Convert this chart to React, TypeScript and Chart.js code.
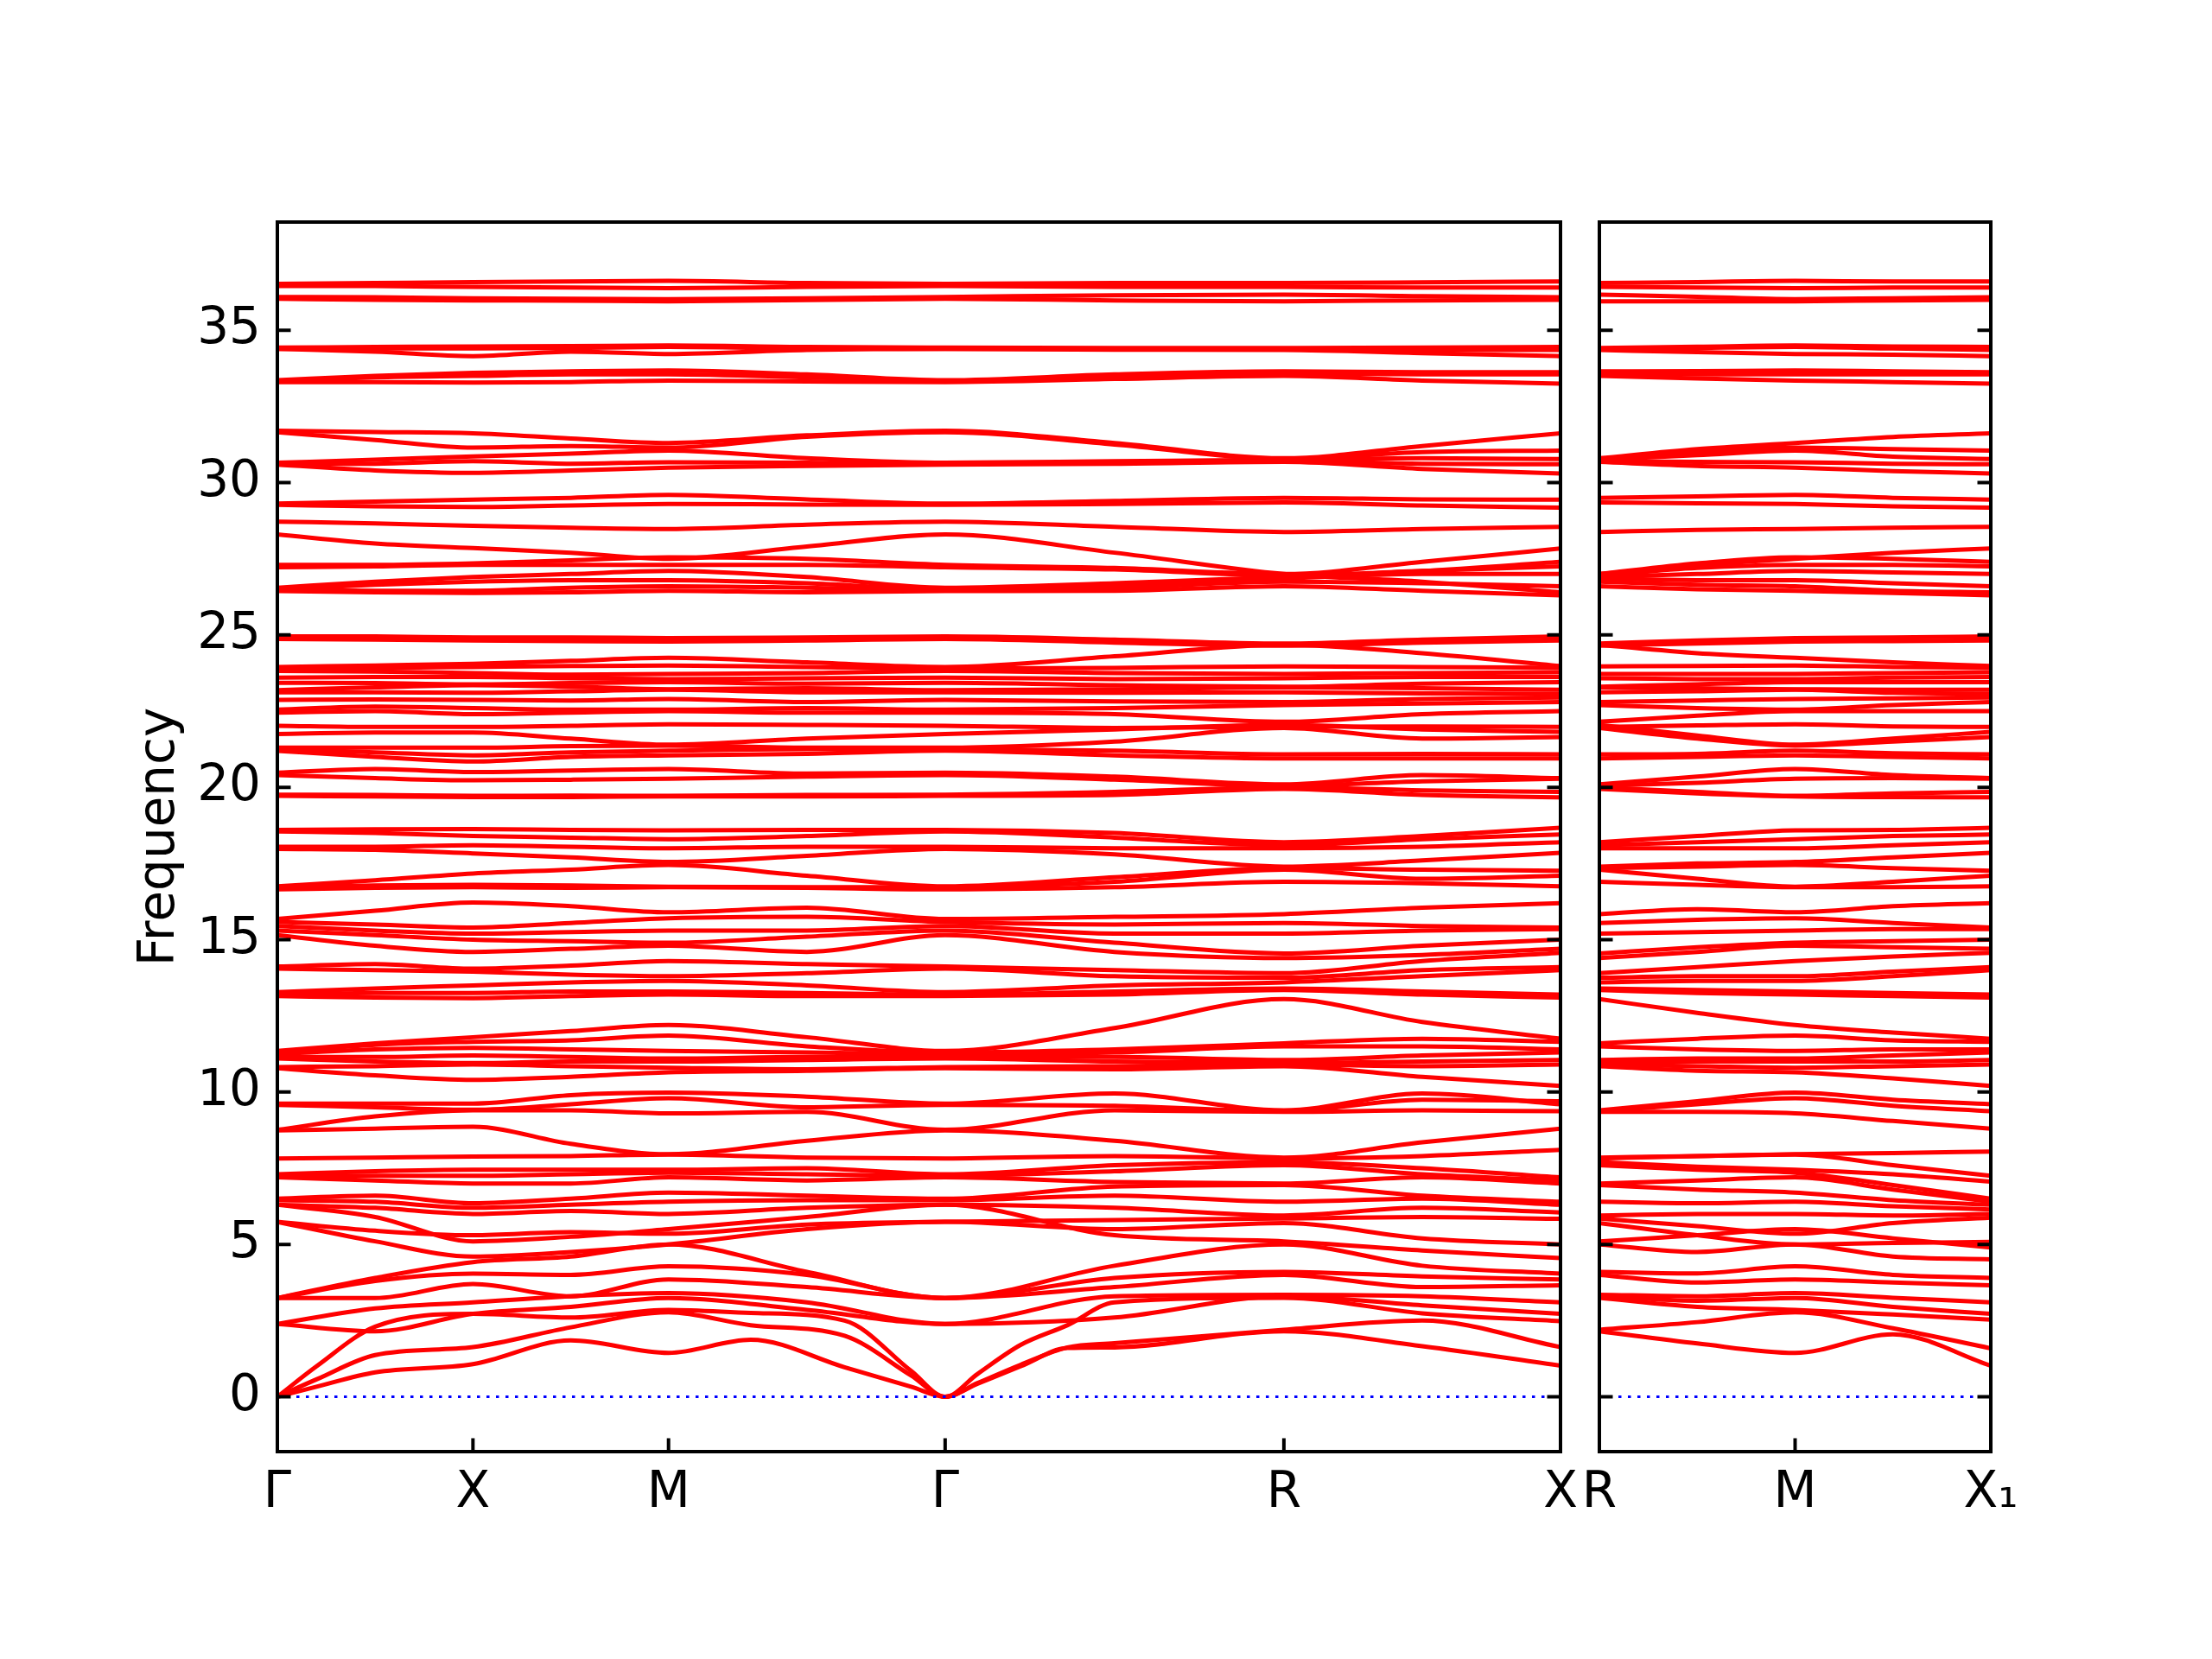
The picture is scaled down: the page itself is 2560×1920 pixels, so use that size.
import React, { useEffect, useRef } from 'react';
import { Chart, registerables } from 'chart.js';

Chart.register(...registerables);

// ---- path positions (reciprocal-space distance) and labels ----
const PATH1_POS = [0, 0.25, 0.5, 0.75, 1.0, 1.3536, 1.7071, 2.1401, 2.5731, 2.9267, 3.2802];
const ACOUSTIC_POS1 = [0, 0.1, 0.25, 0.5, 0.75, 1.0, 1.21, 1.45, 1.62, 1.7071, 1.79, 1.9, 2.02, 2.14, 2.5731, 2.9267, 3.2802];
const PATH2_POS = [0, 0.25, 0.5, 0.75, 1.0];
const PATH1_TICKS = [0, 0.5, 1.0, 1.7071, 2.5731, 3.2802];
const PATH1_LABELS = ['Γ', 'X', 'M', 'Γ', 'R', 'X'];
const PATH2_TICKS = [0, 0.5, 1.0];
const PATH2_LABELS = ['R', 'M', 'X₁'];
const Y_TICKS = [0, 5, 10, 15, 20, 25, 30, 35];
const Y_MIN = -1.8;
const Y_MAX = 38.55;

// ---- acoustic branches (finer sampling near Γ) ----
const acousticP1 = [
  [0, 0.33, 0.8, 1.07, 1.85, 1.44, 1.87, 0.97, 0.33, 0, 0.43, 1.0, 1.6, 1.62, 2.15, 1.66, 1.02],
  [0, 0.57, 1.37, 1.63, 2.28, 2.77, 2.35, 2.0, 0.7, 0, 0.45, 1.05, 1.62, 1.76, 2.2, 2.5, 1.63],
  [0, 1.0, 2.3, 2.72, 2.6, 2.85, 2.75, 2.5, 0.85, 0, 0.75, 1.7, 2.35, 3.1, 3.25, 2.74, 2.48],
];
const acousticP2 = [
  [2.15, 1.75, 1.44, 2.05, 1.02],
  [2.2, 2.45, 2.77, 2.25, 1.59],
  [3.25, 2.95, 2.85, 2.7, 2.53],
];

// ---- optical bands: panel 1 (Γ-X-M-Γ-R-X), panel 2 (R-M-X1) ----
const band2to5P1 = [
  [2.39, 2.15, 2.72, 2.95, 3.24, 2.85, 2.39, 2.6, 3.3, 3.0, 2.72],
  [2.39, 2.9, 3.1, 3.3, 3.4, 3.1, 2.39, 3.3, 3.35, 3.3, 3.1],
  [3.24, 3.24, 3.7, 3.3, 3.85, 3.6, 3.24, 3.6, 4.0, 3.6, 3.66],
  [3.24, 3.8, 4.04, 4.0, 4.28, 4.0, 3.24, 3.9, 4.1, 3.95, 3.85],
  [3.24, 3.9, 4.42, 4.6, 5.0, 4.1, 3.24, 4.3, 5.0, 4.3, 4.04],
];
const band2to5P2 = [
  [3.3, 3.15, 3.24, 2.95, 2.72],
  [3.35, 3.3, 3.4, 3.25, 3.1],
  [4.0, 3.75, 3.85, 3.75, 3.66],
  [4.1, 4.05, 4.28, 4.0, 3.9],
  [5.0, 4.75, 5.0, 4.6, 4.51],
];

const band5to10P1 = [
  [9.62, 9.62, 9.62, 9.9, 9.98, 9.85, 9.62, 9.95, 9.4, 9.95, 9.6],
  [9.58, 9.5, 9.42, 9.6, 9.8, 9.5, 9.58, 9.55, 9.37, 9.75, 9.7],
  [8.76, 9.2, 9.4, 9.4, 9.3, 9.35, 8.76, 9.4, 9.35, 9.4, 9.37],
  [8.74, 8.8, 8.86, 8.3, 7.96, 8.4, 8.74, 8.4, 7.85, 8.35, 8.8],
  [7.82, 7.85, 7.88, 7.9, 7.95, 7.85, 7.82, 7.9, 7.82, 7.9, 8.1],
  [7.3, 7.4, 7.45, 7.45, 7.45, 7.5, 7.3, 7.6, 7.7, 7.5, 7.2],
  [7.25, 7.25, 7.25, 7.3, 7.35, 7.3, 7.25, 7.4, 7.6, 7.3, 7.1],
  [7.2, 7.1, 7.0, 7.0, 7.2, 7.1, 7.2, 7.05, 7.0, 7.2, 7.0],
  [6.5, 6.6, 6.35, 6.5, 6.7, 6.6, 6.5, 6.9, 6.95, 6.6, 6.4],
  [6.45, 6.4, 6.2, 6.3, 6.4, 6.45, 6.45, 6.6, 6.4, 6.5, 6.3],
  [6.3, 6.2, 6.0, 6.1, 6.0, 6.2, 6.3, 6.2, 5.95, 6.2, 6.05],
  [5.74, 5.45, 5.3, 5.4, 5.35, 5.65, 5.74, 5.8, 5.85, 5.9, 5.84],
  [5.74, 5.1, 4.6, 4.75, 5.0, 5.5, 5.74, 5.5, 5.7, 5.2, 5.0],
  [6.3, 5.9, 5.1, 5.25, 5.5, 5.9, 6.3, 5.3, 5.1, 4.8, 4.55],
];
const band5to10P2 = [
  [9.4, 9.7, 9.98, 9.75, 9.6],
  [9.37, 9.6, 9.8, 9.55, 9.37],
  [9.35, 9.35, 9.3, 9.05, 8.8],
  [7.85, 7.9, 7.96, 8.0, 8.05],
  [7.82, 7.9, 7.95, 7.6, 7.25],
  [7.7, 7.55, 7.45, 7.3, 7.06],
  [7.6, 7.45, 7.35, 6.95, 6.5],
  [7.0, 7.1, 7.2, 6.8, 6.4],
  [6.95, 6.8, 6.7, 6.45, 6.3],
  [6.4, 6.35, 6.4, 6.25, 6.15],
  [5.95, 6.0, 6.0, 5.95, 6.0],
  [5.85, 5.6, 5.35, 5.7, 5.88],
  [5.7, 5.3, 5.0, 5.05, 5.08],
  [5.1, 5.3, 5.5, 5.2, 4.9],
];

const band10to13P1 = [
  [11.35, 11.6, 11.8, 12.0, 12.2, 11.8, 11.35, 12.1, 13.05, 12.3, 11.75],
  [11.3, 11.55, 11.65, 11.7, 11.85, 11.5, 11.3, 11.4, 11.6, 11.75, 11.65],
  [11.25, 11.4, 11.45, 11.4, 11.35, 11.3, 11.25, 11.3, 11.5, 11.5, 11.4],
  [11.15, 11.15, 11.2, 11.15, 11.1, 11.15, 11.15, 11.15, 11.05, 11.2, 11.3],
  [11.1, 11.0, 10.95, 11.0, 11.0, 11.05, 11.1, 11.0, 10.95, 11.0, 11.05],
  [10.82, 10.85, 10.9, 10.85, 10.8, 10.75, 10.82, 10.85, 10.9, 10.85, 10.9],
  [10.78, 10.55, 10.4, 10.5, 10.65, 10.7, 10.78, 10.75, 10.85, 10.5, 10.2],
];
const band10to13P2 = [
  [13.05, 12.6, 12.2, 11.95, 11.75],
  [11.6, 11.75, 11.85, 11.7, 11.65],
  [11.5, 11.4, 11.35, 11.4, 11.4],
  [11.05, 11.1, 11.1, 11.2, 11.3],
  [10.95, 11.0, 11.0, 11.0, 11.05],
  [10.9, 10.85, 10.8, 10.85, 10.9],
  [10.85, 10.7, 10.65, 10.45, 10.2],
];

const band13to16P1 = [
  [15.68, 15.95, 16.22, 16.1, 15.9, 16.05, 15.68, 15.75, 15.84, 16.05, 16.2],
  [15.58, 15.5, 15.4, 15.55, 15.7, 15.75, 15.58, 15.5, 15.55, 15.45, 15.4],
  [15.45, 15.3, 15.2, 15.25, 15.3, 15.3, 15.45, 15.2, 15.2, 15.3, 15.35],
  [15.3, 15.15, 15.0, 14.95, 14.9, 15.1, 15.3, 14.9, 14.55, 14.8, 15.0],
  [15.15, 14.8, 14.6, 14.7, 14.8, 14.6, 15.15, 14.6, 14.4, 14.5, 14.7],
  [14.12, 14.2, 14.05, 14.15, 14.3, 14.2, 14.12, 14.0, 13.9, 14.3, 14.57],
  [14.05, 14.0, 13.95, 13.85, 13.8, 13.9, 14.05, 13.8, 13.75, 14.0, 14.1],
  [13.28, 13.4, 13.5, 13.6, 13.65, 13.5, 13.28, 13.5, 13.6, 13.8, 14.0],
  [13.2, 13.25, 13.25, 13.3, 13.3, 13.25, 13.2, 13.3, 13.4, 13.3, 13.2],
  [13.15, 13.1, 13.08, 13.15, 13.2, 13.15, 13.15, 13.2, 13.35, 13.2, 13.1],
];
const band13to16P2 = [
  [15.84, 16.0, 15.9, 16.1, 16.2],
  [15.55, 15.65, 15.7, 15.55, 15.4],
  [15.2, 15.25, 15.3, 15.35, 15.35],
  [14.55, 14.75, 14.9, 14.95, 15.0],
  [14.4, 14.6, 14.8, 14.75, 14.7],
  [13.9, 14.1, 14.3, 14.45, 14.57],
  [13.75, 13.8, 13.8, 13.95, 14.1],
  [13.6, 13.65, 13.65, 13.8, 14.0],
  [13.4, 13.35, 13.3, 13.25, 13.2],
  [13.35, 13.25, 13.2, 13.15, 13.1],
];

const band16to19P1 = [
  [18.6, 18.62, 18.63, 18.6, 18.59, 18.6, 18.6, 18.5, 18.2, 18.4, 18.67],
  [18.55, 18.5, 18.4, 18.35, 18.3, 18.4, 18.55, 18.35, 18.1, 18.3, 18.45],
  [18.05, 18.05, 18.1, 18.05, 18.0, 18.05, 18.05, 18.0, 18.0, 18.05, 18.2],
  [17.98, 17.95, 17.83, 17.7, 17.55, 17.75, 17.98, 17.8, 17.4, 17.6, 17.85],
  [16.75, 16.95, 17.17, 17.3, 17.45, 17.1, 16.75, 17.05, 17.35, 17.3, 17.26],
  [16.72, 16.78, 16.8, 16.78, 16.74, 16.72, 16.72, 16.9, 17.3, 17.0, 17.1],
  [16.65, 16.7, 16.72, 16.7, 16.72, 16.7, 16.65, 16.72, 16.9, 16.85, 16.75],
];
const band16to19P2 = [
  [18.2, 18.4, 18.59, 18.6, 18.67],
  [18.1, 18.2, 18.3, 18.4, 18.45],
  [18.0, 18.0, 18.0, 18.1, 18.2],
  [17.4, 17.5, 17.55, 17.7, 17.85],
  [17.35, 17.4, 17.45, 17.35, 17.26],
  [17.3, 17.0, 16.74, 16.9, 17.1],
  [16.9, 16.8, 16.72, 16.72, 16.75],
];

const band19to22P1 = [
  [20.48, 20.6, 20.5, 20.55, 20.6, 20.45, 20.48, 20.35, 20.1, 20.4, 20.3],
  [20.4, 20.3, 20.23, 20.25, 20.28, 20.35, 20.4, 20.25, 20.05, 20.2, 20.28],
  [19.76, 19.75, 19.72, 19.73, 19.72, 19.75, 19.76, 19.85, 20.0, 19.9, 19.85],
  [19.72, 19.7, 19.68, 19.68, 19.7, 19.7, 19.72, 19.75, 19.95, 19.75, 19.67],
  [22.02, 21.98, 21.98, 22.02, 22.07, 22.05, 22.02, 21.95, 21.98, 22.0, 21.98],
  [21.75, 21.8, 21.8, 21.6, 21.4, 21.6, 21.75, 21.9, 22.05, 21.9, 21.82],
  [21.3, 21.3, 21.3, 21.35, 21.37, 21.3, 21.3, 21.5, 21.95, 21.6, 21.65],
  [21.25, 21.15, 21.05, 21.15, 21.2, 21.25, 21.25, 21.2, 21.08, 21.1, 21.08],
  [21.2, 21.0, 20.85, 21.0, 21.05, 21.1, 21.2, 21.05, 20.95, 20.95, 20.95],
];
const band19to22P2 = [
  [20.1, 20.35, 20.6, 20.4, 20.3],
  [20.05, 20.15, 20.28, 20.3, 20.28],
  [20.0, 19.85, 19.72, 19.8, 19.85],
  [19.95, 19.8, 19.7, 19.68, 19.67],
  [21.98, 22.03, 22.07, 22.0, 21.98],
  [22.05, 21.7, 21.4, 21.6, 21.82],
  [21.95, 21.6, 21.37, 21.5, 21.65],
  [21.08, 21.1, 21.2, 21.12, 21.08],
  [20.95, 21.0, 21.05, 21.0, 20.95],
];

const band22to25P1 = [
  [23.95, 24.0, 24.05, 24.15, 24.25, 24.1, 23.95, 24.3, 24.68, 24.4, 23.98],
  [23.9, 23.92, 23.95, 23.98, 24.0, 23.95, 23.9, 23.92, 23.97, 23.95, 23.92],
  [23.82, 23.8, 23.75, 23.7, 23.72, 23.75, 23.82, 23.75, 23.72, 23.75, 23.78],
  [23.6, 23.62, 23.62, 23.58, 23.55, 23.58, 23.6, 23.55, 23.58, 23.62, 23.62],
  [23.43, 23.42, 23.38, 23.42, 23.45, 23.4, 23.43, 23.35, 23.3, 23.4, 23.45],
  [23.19, 23.28, 23.35, 23.3, 23.22, 23.25, 23.19, 23.22, 23.28, 23.25, 23.2],
  [23.12, 23.12, 23.1, 23.15, 23.2, 23.12, 23.12, 23.1, 23.12, 23.08, 23.07],
  [22.87, 22.88, 22.87, 22.85, 22.9, 22.8, 22.87, 22.82, 22.8, 22.9, 22.95],
  [22.55, 22.65, 22.6, 22.55, 22.55, 22.6, 22.55, 22.6, 22.7, 22.75, 22.8],
  [22.45, 22.5, 22.4, 22.45, 22.5, 22.45, 22.45, 22.4, 22.15, 22.4, 22.5],
  [24.95, 24.95, 24.92, 24.92, 24.9, 24.92, 24.95, 24.85, 24.72, 24.85, 24.95],
  [24.87, 24.85, 24.82, 24.8, 24.78, 24.82, 24.87, 24.75, 24.65, 24.75, 24.82],
];
const band22to25P2 = [
  [24.68, 24.4, 24.25, 24.1, 23.98],
  [23.97, 23.98, 24.0, 23.95, 23.92],
  [23.72, 23.72, 23.72, 23.75, 23.78],
  [23.58, 23.55, 23.55, 23.6, 23.62],
  [23.3, 23.38, 23.45, 23.45, 23.45],
  [23.28, 23.25, 23.22, 23.2, 23.2],
  [23.12, 23.15, 23.2, 23.1, 23.07],
  [22.8, 22.85, 22.9, 22.92, 22.95],
  [22.7, 22.6, 22.55, 22.7, 22.8],
  [22.15, 22.35, 22.5, 22.5, 22.5],
  [24.72, 24.82, 24.9, 24.92, 24.95],
  [24.65, 24.72, 24.78, 24.8, 24.82],
];

const band26to29P1 = [
  [28.72, 28.66, 28.58, 28.52, 28.48, 28.62, 28.72, 28.55, 28.38, 28.48, 28.55],
  [28.3, 28.0, 27.85, 27.7, 27.5, 27.9, 28.3, 27.7, 27.0, 26.75, 26.4],
  [27.3, 27.3, 27.35, 27.45, 27.55, 27.5, 27.3, 27.2, 27.0, 27.4, 27.84],
  [27.22, 27.25, 27.3, 27.3, 27.3, 27.3, 27.22, 27.15, 26.95, 27.1, 27.25],
  [26.55, 26.75, 26.9, 27.0, 27.1, 26.9, 26.55, 26.7, 26.9, 27.1, 27.4],
  [26.5, 26.65, 26.75, 26.8, 26.8, 26.7, 26.5, 26.6, 26.85, 27.0, 27.0],
  [26.48, 26.45, 26.45, 26.55, 26.6, 26.55, 26.48, 26.55, 26.75, 26.7, 26.6],
  [26.44, 26.4, 26.38, 26.4, 26.45, 26.4, 26.44, 26.45, 26.6, 26.45, 26.3],
];
const band26to29P2 = [
  [28.38, 28.45, 28.48, 28.52, 28.55],
  [27.0, 27.3, 27.5, 27.7, 27.84],
  [27.0, 27.35, 27.55, 27.5, 27.4],
  [26.95, 27.2, 27.3, 27.3, 27.25],
  [26.9, 27.0, 27.1, 27.05, 27.0],
  [26.85, 26.8, 26.8, 26.7, 26.6],
  [26.75, 26.65, 26.6, 26.45, 26.4],
  [26.6, 26.5, 26.45, 26.38, 26.3],
];

const band29to37P1 = [
  [29.31, 29.38, 29.44, 29.5, 29.6, 29.45, 29.31, 29.4, 29.5, 29.45, 29.44],
  [29.27, 29.22, 29.2, 29.25, 29.3, 29.28, 29.27, 29.3, 29.35, 29.25, 29.18],
  [31.7, 31.66, 31.62, 31.45, 31.3, 31.55, 31.7, 31.3, 30.8, 31.2, 31.62],
  [31.65, 31.4, 31.15, 31.2, 31.15, 31.5, 31.65, 31.25, 30.78, 31.0, 31.05],
  [30.65, 30.75, 30.86, 30.95, 31.05, 30.8, 30.65, 30.7, 30.75, 30.8, 30.77],
  [30.61, 30.62, 30.7, 30.62, 30.67, 30.65, 30.61, 30.66, 30.7, 30.62, 30.6],
  [30.59, 30.4, 30.32, 30.4, 30.49, 30.55, 30.59, 30.62, 30.68, 30.45, 30.3],
  [33.36, 33.5, 33.6, 33.65, 33.68, 33.55, 33.36, 33.55, 33.65, 33.62, 33.62],
  [33.32, 33.45, 33.5, 33.55, 33.55, 33.45, 33.32, 33.5, 33.58, 33.55, 33.55],
  [33.3, 33.3, 33.28, 33.3, 33.35, 33.32, 33.3, 33.4, 33.5, 33.35, 33.25],
  [34.43, 34.45, 34.47, 34.48, 34.5, 34.45, 34.43, 34.42, 34.42, 34.43, 34.45],
  [34.39, 34.3, 34.15, 34.3, 34.22, 34.35, 34.39, 34.36, 34.35, 34.25, 34.15],
  [34.39, 34.4, 34.4, 34.42, 34.45, 34.4, 34.39, 34.38, 34.38, 34.35, 34.35],
  [36.52, 36.55, 36.58, 36.6, 36.62, 36.55, 36.52, 36.55, 36.55, 36.57, 36.6],
  [36.45, 36.45, 36.42, 36.4, 36.38, 36.42, 36.45, 36.42, 36.42, 36.4, 36.4],
  [36.09, 36.08, 36.05, 36.03, 36.02, 36.05, 36.09, 36.15, 36.17, 36.12, 36.08],
  [36.03, 36.0, 35.98, 35.97, 35.95, 35.99, 36.03, 35.98, 35.95, 35.98, 36.0],
];
const band29to37P2 = [
  [29.5, 29.55, 29.6, 29.5, 29.44],
  [29.35, 29.32, 29.3, 29.22, 29.18],
  [30.8, 31.1, 31.3, 31.5, 31.62],
  [30.78, 31.0, 31.15, 31.1, 31.05],
  [30.75, 30.9, 31.05, 30.85, 30.77],
  [30.7, 30.68, 30.67, 30.62, 30.6],
  [30.68, 30.55, 30.49, 30.38, 30.3],
  [33.65, 33.66, 33.68, 33.65, 33.62],
  [33.58, 33.55, 33.55, 33.55, 33.55],
  [33.5, 33.42, 33.35, 33.3, 33.25],
  [34.42, 34.46, 34.5, 34.47, 34.45],
  [34.35, 34.28, 34.22, 34.2, 34.15],
  [34.38, 34.42, 34.45, 34.4, 34.35],
  [36.55, 36.58, 36.62, 36.6, 36.6],
  [36.42, 36.4, 36.38, 36.4, 36.4],
  [36.17, 36.1, 36.02, 36.05, 36.08],
  [35.95, 35.95, 35.95, 35.98, 36.0],
];

type Group = { rows: number[][]; pos: number[] };

const PANEL1_GROUPS: Group[] = [
  { rows: acousticP1, pos: ACOUSTIC_POS1 },
  ...[band2to5P1, band5to10P1, band10to13P1, band13to16P1, band16to19P1, band19to22P1, band22to25P1, band26to29P1, band29to37P1].map(
    (rows) => ({ rows, pos: PATH1_POS })
  ),
];
const PANEL2_GROUPS: Group[] = [
  acousticP2, band2to5P2, band5to10P2, band10to13P2, band13to16P2, band16to19P2, band19to22P2, band22to25P2, band26to29P2, band29to37P2,
].map((rows) => ({ rows, pos: PATH2_POS }));

// ---- styling ----
const FONT = 'DejaVu Sans';
const FONT_SIZE = 58;
const LINE_RED = '#ff0000';
const ZERO_BLUE = '#0000ff';
const SPINE_W = 4;
const TICK_LEN = 15.5;

const frameAndTicks = {
  id: 'frameAndTicks',
  afterDatasetsDraw(chart: any, _args: any, opts: any) {
    const { ctx, chartArea: a, scales } = chart;
    const xs = scales.x;
    const ys = scales.y;
    ctx.save();
    ctx.strokeStyle = '#000000';
    ctx.lineWidth = SPINE_W;
    ctx.beginPath();
    for (const v of opts.yTicks as number[]) {
      const y = ys.getPixelForValue(v);
      ctx.moveTo(a.left, y);
      ctx.lineTo(a.left + TICK_LEN, y);
      ctx.moveTo(a.right, y);
      ctx.lineTo(a.right - TICK_LEN, y);
    }
    for (const v of opts.xTicks as number[]) {
      const x = xs.getPixelForValue(v);
      ctx.moveTo(x, a.bottom);
      ctx.lineTo(x, a.bottom - TICK_LEN);
    }
    ctx.stroke();
    ctx.lineJoin = 'miter';
    ctx.strokeRect(a.left, a.top, a.right - a.left, a.bottom - a.top);
    ctx.restore();
  },
};

function buildDatasets(groups: Group[], xStart: number, xEnd: number) {
  const ds: any[] = [];
  ds.push({
    data: [
      { x: xStart, y: 0 },
      { x: xEnd, y: 0 },
    ],
    borderColor: ZERO_BLUE,
    borderWidth: 3,
    borderDash: [3.5, 7.5],
    pointRadius: 0,
    order: 0,
  });
  for (const g of groups) {
    for (const band of g.rows) {
      ds.push({
        data: band.map((y, i) => ({ x: g.pos[i], y })),
        borderColor: LINE_RED,
        borderWidth: 5,
        pointRadius: 0,
        cubicInterpolationMode: 'monotone',
        order: 1,
      });
    }
  }
  return ds;
}

function makeConfig(
  groups: Group[],
  xTicks: number[],
  xLabels: string[],
  showY: boolean,
  padLeft: number,
  padRight: number,
  yWidth: number
): any {
  const xStart = xTicks[0];
  const xEnd = xTicks[xTicks.length - 1];
  return {
    type: 'line',
    data: { datasets: buildDatasets(groups, xStart, xEnd) },
    plugins: [frameAndTicks],
    options: {
      animation: false,
      responsive: false,
      devicePixelRatio: 1,
      events: [],
      layout: { padding: { left: padLeft, right: padRight, top: 257, bottom: 140 } },
      plugins: {
        legend: { display: false },
        tooltip: { enabled: false },
        frameAndTicks: { yTicks: Y_TICKS, xTicks },
      },
      scales: {
        x: {
          type: 'linear',
          min: xStart,
          max: xEnd,
          grid: { display: false, drawTicks: false },
          border: { display: false },
          afterBuildTicks: (s: any) => {
            s.ticks = xTicks.map((v) => ({ value: v }));
          },
          afterFit: (s: any) => {
            s.height = 100;
          },
          ticks: {
            autoSkip: false,
            maxRotation: 0,
            minRotation: 0,
            padding: 14,
            color: '#000000',
            font: { family: FONT, size: FONT_SIZE },
            callback: (_v: any, i: number) => xLabels[i],
          },
        },
        y: {
          type: 'linear',
          min: Y_MIN,
          max: Y_MAX,
          grid: { display: false, drawTicks: false },
          border: { display: false },
          afterBuildTicks: (s: any) => {
            s.ticks = Y_TICKS.map((v) => ({ value: v }));
          },
          afterFit: (s: any) => {
            s.width = yWidth;
          },
          ticks: {
            display: showY,
            padding: 19,
            color: '#000000',
            font: { family: FONT, size: FONT_SIZE },
            callback: (v: any) => String(v),
          },
          title: {
            display: showY,
            text: 'Frequency',
            color: '#000000',
            font: { family: FONT, size: FONT_SIZE },
            padding: { top: 0, bottom: 0 },
          },
        },
      },
    },
  };
}

export default function App() {
  const ref1 = useRef<HTMLCanvasElement | null>(null);
  const ref2 = useRef<HTMLCanvasElement | null>(null);

  useEffect(() => {
    Chart.defaults.font.family = FONT;
    const c1 = new Chart(
      ref1.current as HTMLCanvasElement,
      makeConfig(PANEL1_GROUPS, PATH1_TICKS, PATH1_LABELS, true, 151, 754, 170)
    );
    const c2 = new Chart(
      ref2.current as HTMLCanvasElement,
      makeConfig(PANEL2_GROUPS, PATH2_TICKS, PATH2_LABELS, false, 1851, 256, 0)
    );
    return () => {
      c1.destroy();
      c2.destroy();
    };
  }, []);

  const canvasStyle: React.CSSProperties = {
    position: 'absolute',
    left: 0,
    top: 0,
    width: 2560,
    height: 1920,
  };

  return (
    <div
      style={{
        position: 'absolute',
        left: 0,
        top: 0,
        width: 2560,
        height: 1920,
        background: '#ffffff',
        overflow: 'hidden',
      }}
    >
      <canvas ref={ref1} width={2560} height={1920} style={canvasStyle} />
      <canvas ref={ref2} width={2560} height={1920} style={canvasStyle} />
    </div>
  );
}
